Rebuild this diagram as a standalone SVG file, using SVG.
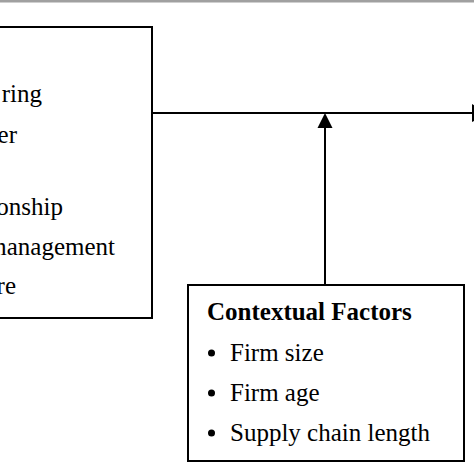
<svg xmlns="http://www.w3.org/2000/svg" width="474" height="474" viewBox="0 0 474 474">
<style>
.box{fill:#fff;stroke:#000;stroke-width:2}
.t{font-family:"Liberation Serif","Times New Roman",serif;font-size:25px;fill:#000}
.b{font-weight:bold}
.ln{stroke:#000;stroke-width:2;fill:none}
</style>
<rect width="474" height="474" fill="#fff"/>
<rect x="0" y="0" width="474" height="2.5" fill="#a0a0a0"/>
<g id="connectors">
<line class="ln" x1="152" y1="113" x2="472" y2="113"/>
<polygon points="472,104 488,113 472,122" fill="#000"/>
<line class="ln" x1="325" y1="126" x2="325" y2="285"/>
<polygon points="325,113 317.5,128 332.5,128" fill="#000"/>
</g>
<g id="left-node">
<rect class="box" x="-10" y="27" width="162" height="291"/>
<text class="t" x="42" y="102" text-anchor="end">ring</text>
<text class="t" x="17" y="143" text-anchor="end">er</text>
<text class="t" x="63" y="215" text-anchor="end">onship</text>
<text class="t" x="115" y="255" text-anchor="end">management</text>
<text class="t" x="16" y="294" text-anchor="end">re</text>
</g>
<g id="contextual-factors">
<rect class="box" x="188" y="285" width="276" height="176"/>
<text class="t b" x="207" y="320">Contextual Factors</text>
<circle cx="211.5" cy="353" r="3.5" fill="#000"/>
<text class="t" x="230" y="361">Firm size</text>
<circle cx="211.5" cy="393" r="3.5" fill="#000"/>
<text class="t" x="230" y="401">Firm age</text>
<circle cx="211.5" cy="433" r="3.5" fill="#000"/>
<text class="t" x="230" y="441">Supply chain length</text>
</g>
</svg>
